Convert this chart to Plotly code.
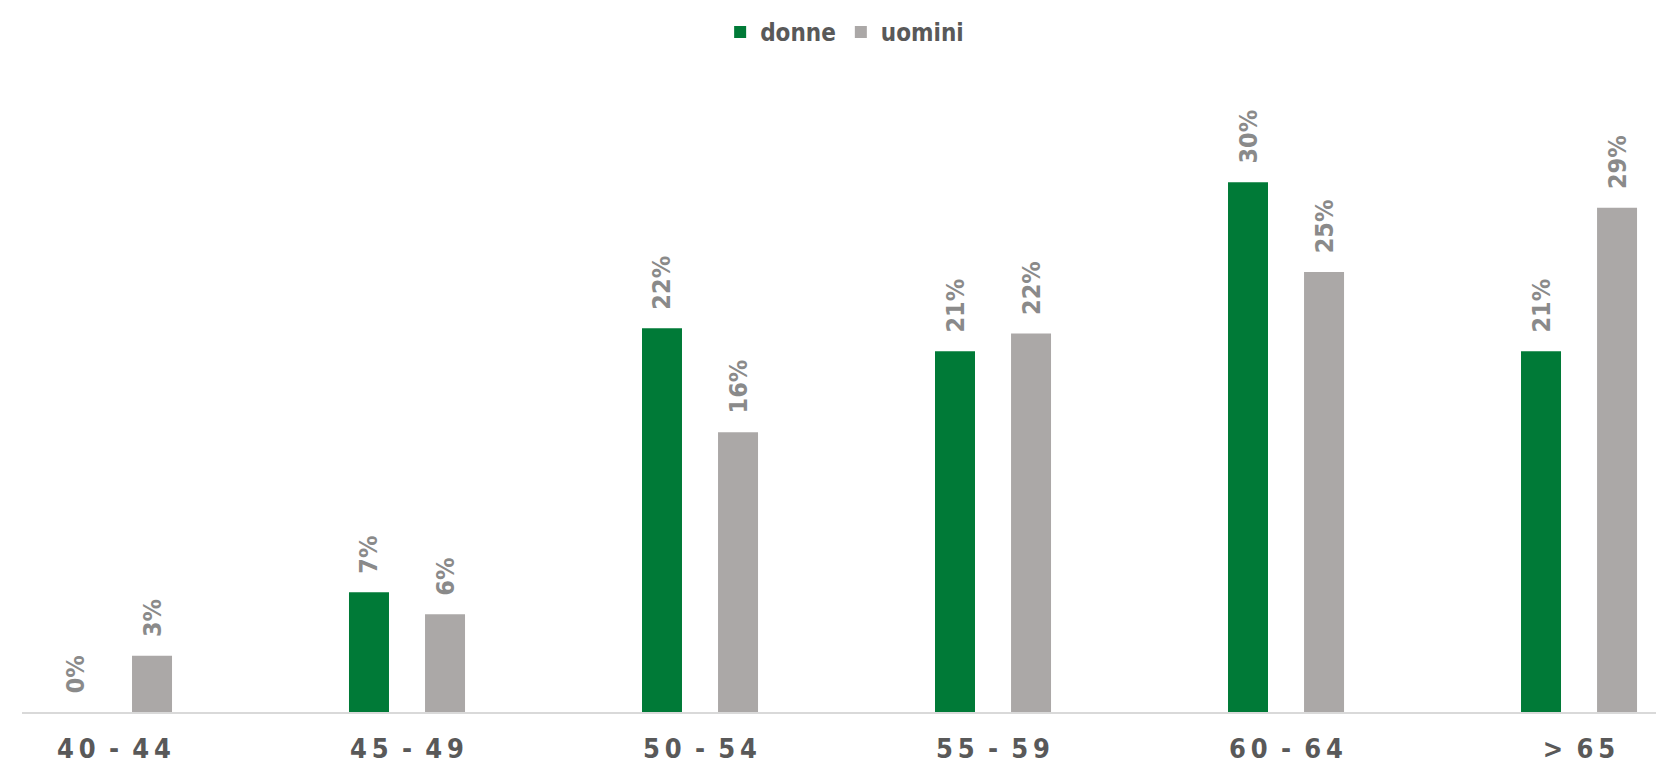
import plotly.graph_objects as go

categories = ["40 - 44", "45 - 49", "50 - 54", "55 - 59", "60 - 64", "> 65"]
tick_labels = ["4\u20090\u00a0\u2009-\u00a0\u20094\u20094",
               "4\u20095\u00a0\u2009-\u00a0\u20094\u20099",
               "5\u20090\u00a0\u2009-\u00a0\u20095\u20094",
               "5\u20095\u00a0\u2009-\u00a0\u20095\u20099",
               "6\u20090\u00a0\u2009-\u00a0\u20096\u20094",
               ">\u00a0\u20096\u20095"]
donne = [0.0, 6.8, 21.8, 20.5, 30.1, 20.5]
uomini = [3.2, 5.55, 15.9, 21.5, 25.0, 28.65]
donne_labels = ["0%", "7%", "22%", "21%", "30%", "21%"]
uomini_labels = ["3%", "6%", "16%", "22%", "25%", "29%"]

FONT = "DejaVu Sans Condensed, DejaVu Sans, sans-serif"
GREEN = "#007a37"
GREY = "#aba8a7"
LABEL_GREY = "#8a8a8a"
DARK = "#595959"
PAD = "\u00a0\u00a0"

fig = go.Figure()
fig.add_trace(go.Bar(
    name="donne", x=categories, y=donne,
    marker=dict(color=GREEN, line=dict(width=0)),
    text=[PAD + t for t in donne_labels], textposition="outside", textangle=-90,
    textfont=dict(family=FONT, size=25, color=LABEL_GREY, weight="bold"),
    constraintext="none", cliponaxis=False,
))
fig.add_trace(go.Bar(
    name="uomini", x=categories, y=uomini,
    marker=dict(color=GREY, line=dict(width=0)),
    text=[PAD + t for t in uomini_labels], textposition="outside", textangle=-90,
    textfont=dict(family=FONT, size=25, color=LABEL_GREY, weight="bold"),
    constraintext="none", cliponaxis=False,
))

fig.update_layout(
    width=1656, height=758,
    margin=dict(l=14, r=0, t=52, b=54, autoexpand=False),
    paper_bgcolor="white", plot_bgcolor="white",
    barmode="group", bargap=0.481, bargroupgap=0.474,
    font=dict(family=FONT, color=DARK),
    showlegend=True,
    legend=dict(orientation="h", x=0.501, xanchor="center", y=1.008, yanchor="bottom",
                font=dict(family=FONT, size=24, color=DARK, weight="bold"),
                itemwidth=30, traceorder="normal"),
    xaxis=dict(
        type="category", range=[-0.314, 5.29], automargin=False,
        tickmode="array", tickvals=categories, ticktext=tick_labels,
        tickfont=dict(family=FONT, size=27, color=DARK, weight="bold"),
        ticklabelstandoff=12,
        showline=True, linecolor="#d9d9d9", linewidth=2,
        showgrid=False, ticks="", zeroline=False,
    ),
    yaxis=dict(range=[0, 652 / 17.6], visible=False, showgrid=False, zeroline=False),
)

fig.write_html("out.html")
